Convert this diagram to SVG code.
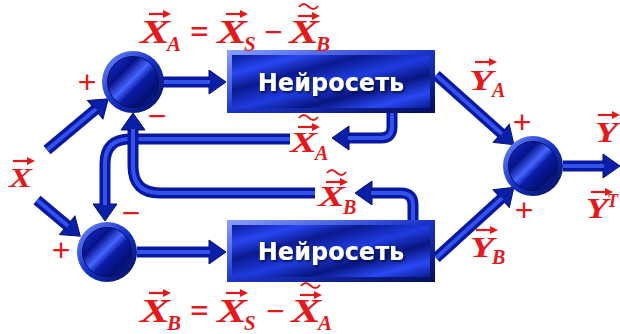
<svg xmlns="http://www.w3.org/2000/svg" xmlns:xlink="http://www.w3.org/1999/xlink" width="620" height="334" viewBox="0 0 620 334">
<style>
.lbl{font-family:"Liberation Serif","DejaVu Serif",serif;font-style:italic;font-weight:bold;fill:#e3191c}
.op{font-family:"Liberation Serif","DejaVu Serif",serif;font-weight:bold;fill:#e3191c}
.sgn{font-family:"Liberation Sans",Arial,sans-serif;fill:#e3191c;font-size:32px;text-anchor:middle}
.net{font-family:"DejaVu Sans",sans-serif;font-weight:bold;font-size:24px;fill:#fff;text-anchor:middle;filter:url(#ts)}
.wire{fill:none;stroke:#0818a0;stroke-width:11;marker-end:url(#ah)}
.shine{fill:none;stroke:#3f62ff;stroke-width:4;stroke-opacity:0.8}
</style>
<defs>
<linearGradient id="face" x1="0" y1="0" x2="1" y2="1">
<stop offset="0" stop-color="#0a1a9c"/><stop offset="0.18" stop-color="#2845f0"/><stop offset="0.33" stop-color="#0a1a90"/><stop offset="0.52" stop-color="#1f3be0"/><stop offset="0.68" stop-color="#081680"/><stop offset="0.85" stop-color="#2a48f5"/><stop offset="1" stop-color="#0a1a90"/>
</linearGradient>
<linearGradient id="bevel" x1="0" y1="0" x2="1" y2="1">
<stop offset="0" stop-color="#8aa2ff"/><stop offset="0.5" stop-color="#1b33c8"/><stop offset="1" stop-color="#040e5c"/>
</linearGradient>
<linearGradient id="disc" x1="0" y1="0" x2="1" y2="1">
<stop offset="0" stop-color="#1a36e0"/><stop offset="0.3" stop-color="#06128a"/><stop offset="0.47" stop-color="#4566ff"/><stop offset="0.58" stop-color="#0a1ca8"/><stop offset="0.78" stop-color="#041070"/><stop offset="1" stop-color="#1a36d0"/>
</linearGradient>
<linearGradient id="ring" x1="0" y1="0" x2="1" y2="1">
<stop offset="0" stop-color="#7390ff"/><stop offset="0.5" stop-color="#1430c8"/><stop offset="1" stop-color="#030c50"/>
</linearGradient>
<marker id="ah" markerUnits="userSpaceOnUse" markerWidth="18" markerHeight="24" refX="1" refY="12" orient="auto" overflow="visible">
<path d="M0,0 L17,12 L0,24 z" fill="#0a1fa8" stroke="#051070" stroke-width="1"/>
</marker>
<filter id="ts" x="-10%" y="-30%" width="120%" height="160%"><feDropShadow dx="1.5" dy="1.5" stdDeviation="1" flood-color="#000830" flood-opacity="0.9"/></filter>
<g id="vec"><path d="M0,0 H17" stroke="#e3191c" stroke-width="2.2" fill="none"/><path d="M14,-4 L22,0 L14,4 z" fill="#e3191c"/></g>
<g id="tvec"><use xlink:href="#vec"/><path d="M1,-9 c3,-4 6,-4 9.5,-0.5 s6.5,3.5 9.5,-0.5" stroke="#e3191c" stroke-width="2" fill="none"/></g>
<path id="c1" d="M47,150 L96,109"/>
<path id="c2" d="M37,200 L68,226"/>
<path id="c3" d="M163,82 L210,82"/>
<path id="c4" d="M137,252 L210,252"/>
<path id="c5" d="M436,75 L502,134"/>
<path id="c6" d="M436,258 L502,198"/>
<path id="c7" d="M563,166 L604,166"/>
<path id="c8" d="M392,113 L392,127 Q392,138 381,138 L348,138"/>
<path id="c9" d="M413,220 L413,205 Q413,193 401,193 L371,193"/>
<path id="c10" d="M290,139 L130,139 Q105,139 105,164 L105,205"/>
<path id="c11" d="M315,193 L160,193 Q133,193 133,166 L133,129"/>
</defs>

<g id="connectors">
<use class="wire" xlink:href="#c1"/><use class="shine" xlink:href="#c1"/>
<use class="wire" xlink:href="#c2"/><use class="shine" xlink:href="#c2"/>
<use class="wire" xlink:href="#c3"/><use class="shine" xlink:href="#c3"/>
<use class="wire" xlink:href="#c4"/><use class="shine" xlink:href="#c4"/>
<use class="wire" xlink:href="#c5"/><use class="shine" xlink:href="#c5"/>
<use class="wire" xlink:href="#c6"/><use class="shine" xlink:href="#c6"/>
<use class="wire" xlink:href="#c7"/><use class="shine" xlink:href="#c7"/>
<use class="wire" xlink:href="#c8"/><use class="shine" xlink:href="#c8"/>
<use class="wire" xlink:href="#c9"/><use class="shine" xlink:href="#c9"/>
<use class="wire" xlink:href="#c10"/><use class="shine" xlink:href="#c10"/>
<use class="wire" xlink:href="#c11"/><use class="shine" xlink:href="#c11"/>
</g>

<g id="sumA">
<circle cx="133" cy="82" r="31" fill="url(#ring)"/>
<circle cx="133" cy="82" r="25.5" fill="url(#disc)" stroke="#050f60" stroke-width="1"/>
</g>
<g id="sumB">
<circle cx="107" cy="252" r="30" fill="url(#ring)"/>
<circle cx="107" cy="252" r="24.5" fill="url(#disc)" stroke="#050f60" stroke-width="1"/>
</g>
<g id="sumOut">
<circle cx="533" cy="166" r="30" fill="url(#ring)"/>
<circle cx="533" cy="166" r="24.5" fill="url(#disc)" stroke="#050f60" stroke-width="1"/>
</g>

<g id="netA">
<rect x="227" y="50" width="208" height="63" fill="url(#bevel)"/>
<rect x="232" y="55" width="198" height="53" fill="url(#face)"/>
<text class="net" x="331" y="91">Нейросеть</text>
</g>
<g id="netB">
<rect x="227" y="220" width="208" height="62" fill="url(#bevel)"/>
<rect x="232" y="225" width="198" height="52" fill="url(#face)"/>
<text class="net" x="331" y="260">Нейросеть</text>
</g>

<g id="signs">
<text class="sgn" x="87" y="93">+</text>
<text class="sgn" x="157" y="127">−</text>
<text class="sgn" x="61" y="261">+</text>
<text class="sgn" x="131" y="224">−</text>
<text class="sgn" x="522" y="133">+</text>
<text class="sgn" x="524" y="221">+</text>
</g>

<g id="formulaTop">
<use xlink:href="#vec" x="149" y="14"/>
<text class="lbl" x="140" y="43" font-size="33" textLength="30" lengthAdjust="spacingAndGlyphs">X</text>
<text class="lbl" x="167" y="51" font-size="21">A</text>
<text class="op" x="190" y="43" font-size="33">=</text>
<use xlink:href="#vec" x="226" y="14"/>
<text class="lbl" x="217" y="43" font-size="33" textLength="30" lengthAdjust="spacingAndGlyphs">X</text>
<text class="lbl" x="244" y="51" font-size="21">S</text>
<text class="op" x="264" y="43" font-size="33">−</text>
<use xlink:href="#tvec" x="298" y="16"/>
<text class="lbl" x="289" y="43" font-size="33" textLength="30" lengthAdjust="spacingAndGlyphs">X</text>
<text class="lbl" x="316" y="51" font-size="21">B</text>
</g>

<g id="formulaBottom">
<use xlink:href="#vec" x="149" y="293"/>
<text class="lbl" x="140" y="322" font-size="33" textLength="30" lengthAdjust="spacingAndGlyphs">X</text>
<text class="lbl" x="167" y="330" font-size="21">B</text>
<text class="op" x="190" y="322" font-size="33">=</text>
<use xlink:href="#vec" x="226" y="293"/>
<text class="lbl" x="217" y="322" font-size="33" textLength="30" lengthAdjust="spacingAndGlyphs">X</text>
<text class="lbl" x="244" y="330" font-size="21">S</text>
<text class="op" x="266" y="322" font-size="33">−</text>
<use xlink:href="#tvec" x="300" y="295"/>
<text class="lbl" x="291" y="322" font-size="33" textLength="30" lengthAdjust="spacingAndGlyphs">X</text>
<text class="lbl" x="318" y="330" font-size="21">A</text>
</g>

<g id="labels">
<use xlink:href="#vec" x="13" y="161"/>
<text class="lbl" x="9" y="187" font-size="28" textLength="23" lengthAdjust="spacingAndGlyphs">X</text>

<use xlink:href="#tvec" x="298" y="127"/>
<text class="lbl" x="290" y="152" font-size="30" textLength="27" lengthAdjust="spacingAndGlyphs">X</text>
<text class="lbl" x="315" y="160" font-size="20">A</text>

<use xlink:href="#tvec" x="326" y="182"/>
<text class="lbl" x="318" y="206" font-size="30" textLength="27" lengthAdjust="spacingAndGlyphs">X</text>
<text class="lbl" x="343" y="214" font-size="20">B</text>

<use xlink:href="#vec" x="475" y="62"/>
<text class="lbl" x="469" y="90" font-size="30" textLength="24" lengthAdjust="spacingAndGlyphs">Y</text>
<text class="lbl" x="492" y="97" font-size="20">A</text>

<use xlink:href="#vec" x="476" y="230"/>
<text class="lbl" x="470" y="257" font-size="30" textLength="24" lengthAdjust="spacingAndGlyphs">Y</text>
<text class="lbl" x="492" y="264" font-size="20">B</text>

<use xlink:href="#vec" x="598" y="115"/>
<text class="lbl" x="595" y="142" font-size="30" textLength="23" lengthAdjust="spacingAndGlyphs">Y</text>

<use xlink:href="#vec" x="591" y="192"/>
<text class="lbl" x="586" y="218" font-size="30" textLength="22" lengthAdjust="spacingAndGlyphs">Y</text>
<text class="lbl" x="607" y="207" font-size="18">T</text>
</g>
</svg>
